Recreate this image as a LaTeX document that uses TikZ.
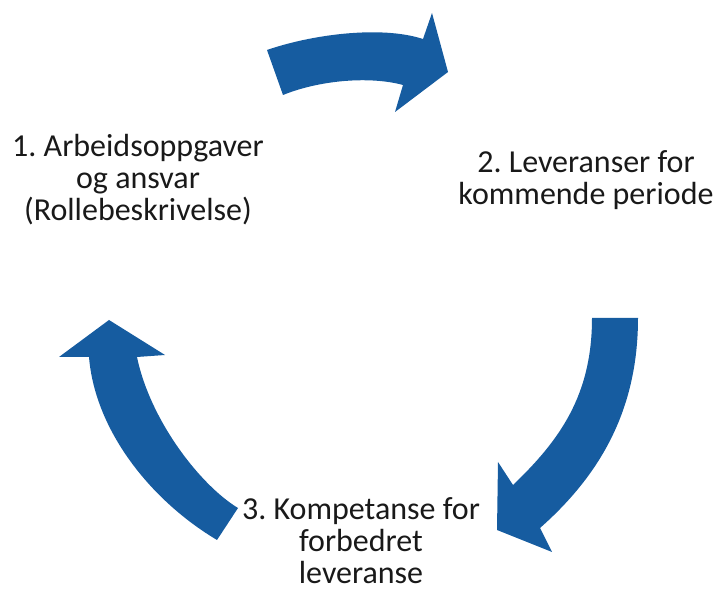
\documentclass[tikz,border=0pt]{standalone}
\usepackage{fontspec}
\setmainfont{Carlito}
\usepackage{xcolor}
\definecolor{cycleblue}{RGB}{22,92,160}
\frenchspacing

\begin{document}
\begin{tikzpicture}[x=0.75pt,y=-0.75pt,
  label/.style={align=center,font=\fontsize{24}{24}\selectfont,text=black!90,inner sep=0pt}]
\useasboundingbox (0,0) rectangle (718,591);
% top arrow: 1 -> 2
\fill[cycleblue] (267,50) .. controls (310,35) and (380,25) .. (423,39)
  -- (432,13) -- (448,72) -- (395,112) -- (403,85)
  .. controls (370,76) and (320,80) .. (283,95) -- cycle;
% right arrow: 2 -> 3
\fill[cycleblue] (592,318) -- (638,318)
  .. controls (638,410) and (600,475) .. (540,528)
  -- (552,552) -- (497,530) -- (498,462) -- (513,485)
  .. controls (560,440) and (592,395) .. (592,318) -- cycle;
% left arrow: 3 -> 1
\fill[cycleblue] (109,320) -- (165,355) -- (137,357)
  .. controls (150,420) and (200,485) .. (238,508)
  -- (217,540)
  .. controls (150,500) and (95,430) .. (89,357)
  -- (59,357) -- cycle;
\node[label] (roles) at (138,180) {1. Arbeidsoppgaver\\og ansvar\\(Rollebeskrivelse)};
\node[label] (deliv) at (586,180) {2. Leveranser for\\kommende periode};
\node[label] (skills) at (361,541) {3. Kompetanse for\\forbedret\\leveranse};
\end{tikzpicture}
\end{document}
